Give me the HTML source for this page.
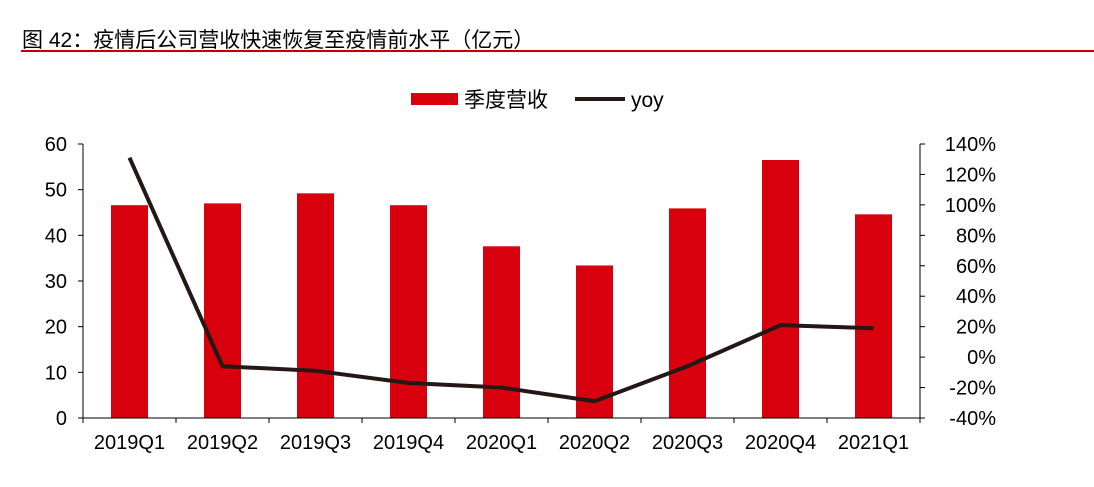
<!DOCTYPE html>
<html><head><meta charset="utf-8"><style>
body{margin:0;background:#fff;width:1094px;height:482px;overflow:hidden;font-family:"Liberation Sans","Noto Sans CJK SC",sans-serif;}
svg text{font-family:"Liberation Sans","Noto Sans CJK SC",sans-serif;}
</style></head><body>
<svg width="1094" height="482">
<text x="22" y="47" font-size="21" fill="#000">图 42：疫情后公司营收快速恢复至疫情前水平（亿元）</text>
<rect x="21" y="50" width="1073" height="2" fill="#c00000"/>
<g>
<rect x="411" y="93" width="47" height="12" fill="#d9000d"/>
<text x="464" y="107" font-size="21">季度营收</text>
<line x1="575" y1="99" x2="625" y2="99" stroke="#231815" stroke-width="4"/>
<text x="631" y="107" font-size="21">yoy</text>
</g>
<g id="plot"></g>
</svg>
<script>
const categories=["2019Q1","2019Q2","2019Q3","2019Q4","2020Q1","2020Q2","2020Q3","2020Q4","2021Q1"];
const revenue=[46.6,47.0,49.2,46.6,37.6,33.4,45.9,56.5,44.6];
const yoy=[131,-6,-9,-17,-20,-29,-6,21,19];
const leftTicks=[0,10,20,30,40,50,60];
const rightTicks=[-40,-20,0,20,40,60,80,100,120,140];
const X0=83,X1=920,Y0=418,Y1=144;
const cw=(X1-X0)/categories.length;
const xC=i=>X0+cw*(i+0.5);
const yL=v=>Y0-(v-0)/60*(Y0-Y1);
const yR=v=>Y0-(v+40)/180*(Y0-Y1);
const g=document.getElementById('plot');
const NS="http://www.w3.org/2000/svg";
function mk(t,a){const e=document.createElementNS(NS,t);for(const k in a)e.setAttribute(k,a[k]);g.appendChild(e);return e;}
revenue.forEach((v,i)=>{const r=mk('rect',{x:xC(i)-18.5,y:yL(v),width:37,height:Y0-yL(v),fill:'#d9000d'});

});
const la=mk('line',{x1:X0,y1:Y1,x2:X0,y2:Y0,stroke:'#000','stroke-width':1});

const ra=mk('line',{x1:X1,y1:Y1,x2:X1,y2:Y0,stroke:'#000','stroke-width':1});

const ba=mk('line',{x1:X0,y1:Y0,x2:X1,y2:Y0,stroke:'#000','stroke-width':1});

leftTicks.forEach(v=>{mk('line',{x1:X0-5,y1:yL(v),x2:X0,y2:yL(v),stroke:'#000'});
const t=mk('text',{x:67,y:yL(v)+7,'font-size':20,'text-anchor':'end'});t.textContent=v;
});
rightTicks.forEach(v=>{mk('line',{x1:X1,y1:yR(v),x2:X1+5,y2:yR(v),stroke:'#000'});
const t=mk('text',{x:996,y:yR(v)+7,'font-size':20,'text-anchor':'end'});t.textContent=v+'%';
});
categories.forEach((c,i)=>{mk('line',{x1:X0+cw*i,y1:Y0,x2:X0+cw*i,y2:Y0+5,stroke:'#000'});
const t=mk('text',{x:xC(i),y:449,'font-size':20,'text-anchor':'middle'});t.textContent=c;
});
mk('line',{x1:X1,y1:Y0,x2:X1,y2:Y0+5,stroke:'#000'});
const pl=mk('polyline',{points:yoy.map((v,i)=>xC(i)+','+yR(v)).join(' '),fill:'none',stroke:'#231815','stroke-width':4,'stroke-linejoin':'round'});

</script>
</body></html>
